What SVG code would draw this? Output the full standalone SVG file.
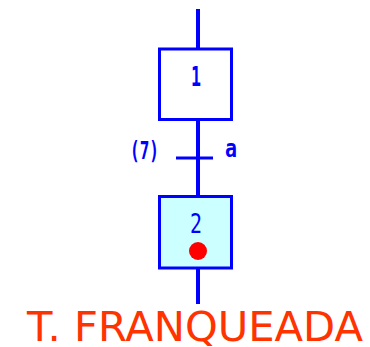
<svg xmlns="http://www.w3.org/2000/svg" width="370" height="347" viewBox="0 0 370 347">
<style>
.ln{stroke:#0000ff;stroke-width:4;fill:none}
.box{stroke:#0000ff;stroke-width:3}
.lbl{font-family:"DejaVu Sans Mono",monospace;fill:#0000ff}
</style>
<rect width="370" height="347" fill="#ffffff"/>
<g id="connectors">
<line class="ln" x1="198" y1="9" x2="198" y2="48"/>
<line class="ln" x1="198" y1="120" x2="198" y2="196"/>
<line class="ln" x1="198" y1="268" x2="198" y2="304"/>
</g>
<g id="step1">
<rect class="box" x="159.5" y="49" width="72" height="70.5" fill="#ffffff"/>
<text class="lbl" x="191" y="86" font-size="26" font-weight="bold" textLength="10" lengthAdjust="spacingAndGlyphs">1</text>
</g>
<g id="transition">
<line stroke="#0000ff" stroke-width="3" x1="176" y1="158" x2="213" y2="158"/>
<text class="lbl" x="130" y="159" font-size="24" font-weight="bold" textLength="29" lengthAdjust="spacingAndGlyphs">(7)</text>
<text class="lbl" x="225" y="157" font-size="24" font-weight="bold" textLength="12" lengthAdjust="spacingAndGlyphs">a</text>
</g>
<g id="step2">
<rect class="box" x="159.5" y="196.5" width="72" height="71.5" fill="#ccffff"/>
<text class="lbl" x="190" y="233" font-size="27" textLength="12" lengthAdjust="spacingAndGlyphs">2</text>
<circle cx="198" cy="251" r="9" fill="#ff0000"/>
</g>
<g id="caption">
<text x="27" y="341" font-family="DejaVu Sans,sans-serif" font-size="40" fill="#ff3300" textLength="336" lengthAdjust="spacingAndGlyphs">T. FRANQUEADA</text>
</g>
</svg>
